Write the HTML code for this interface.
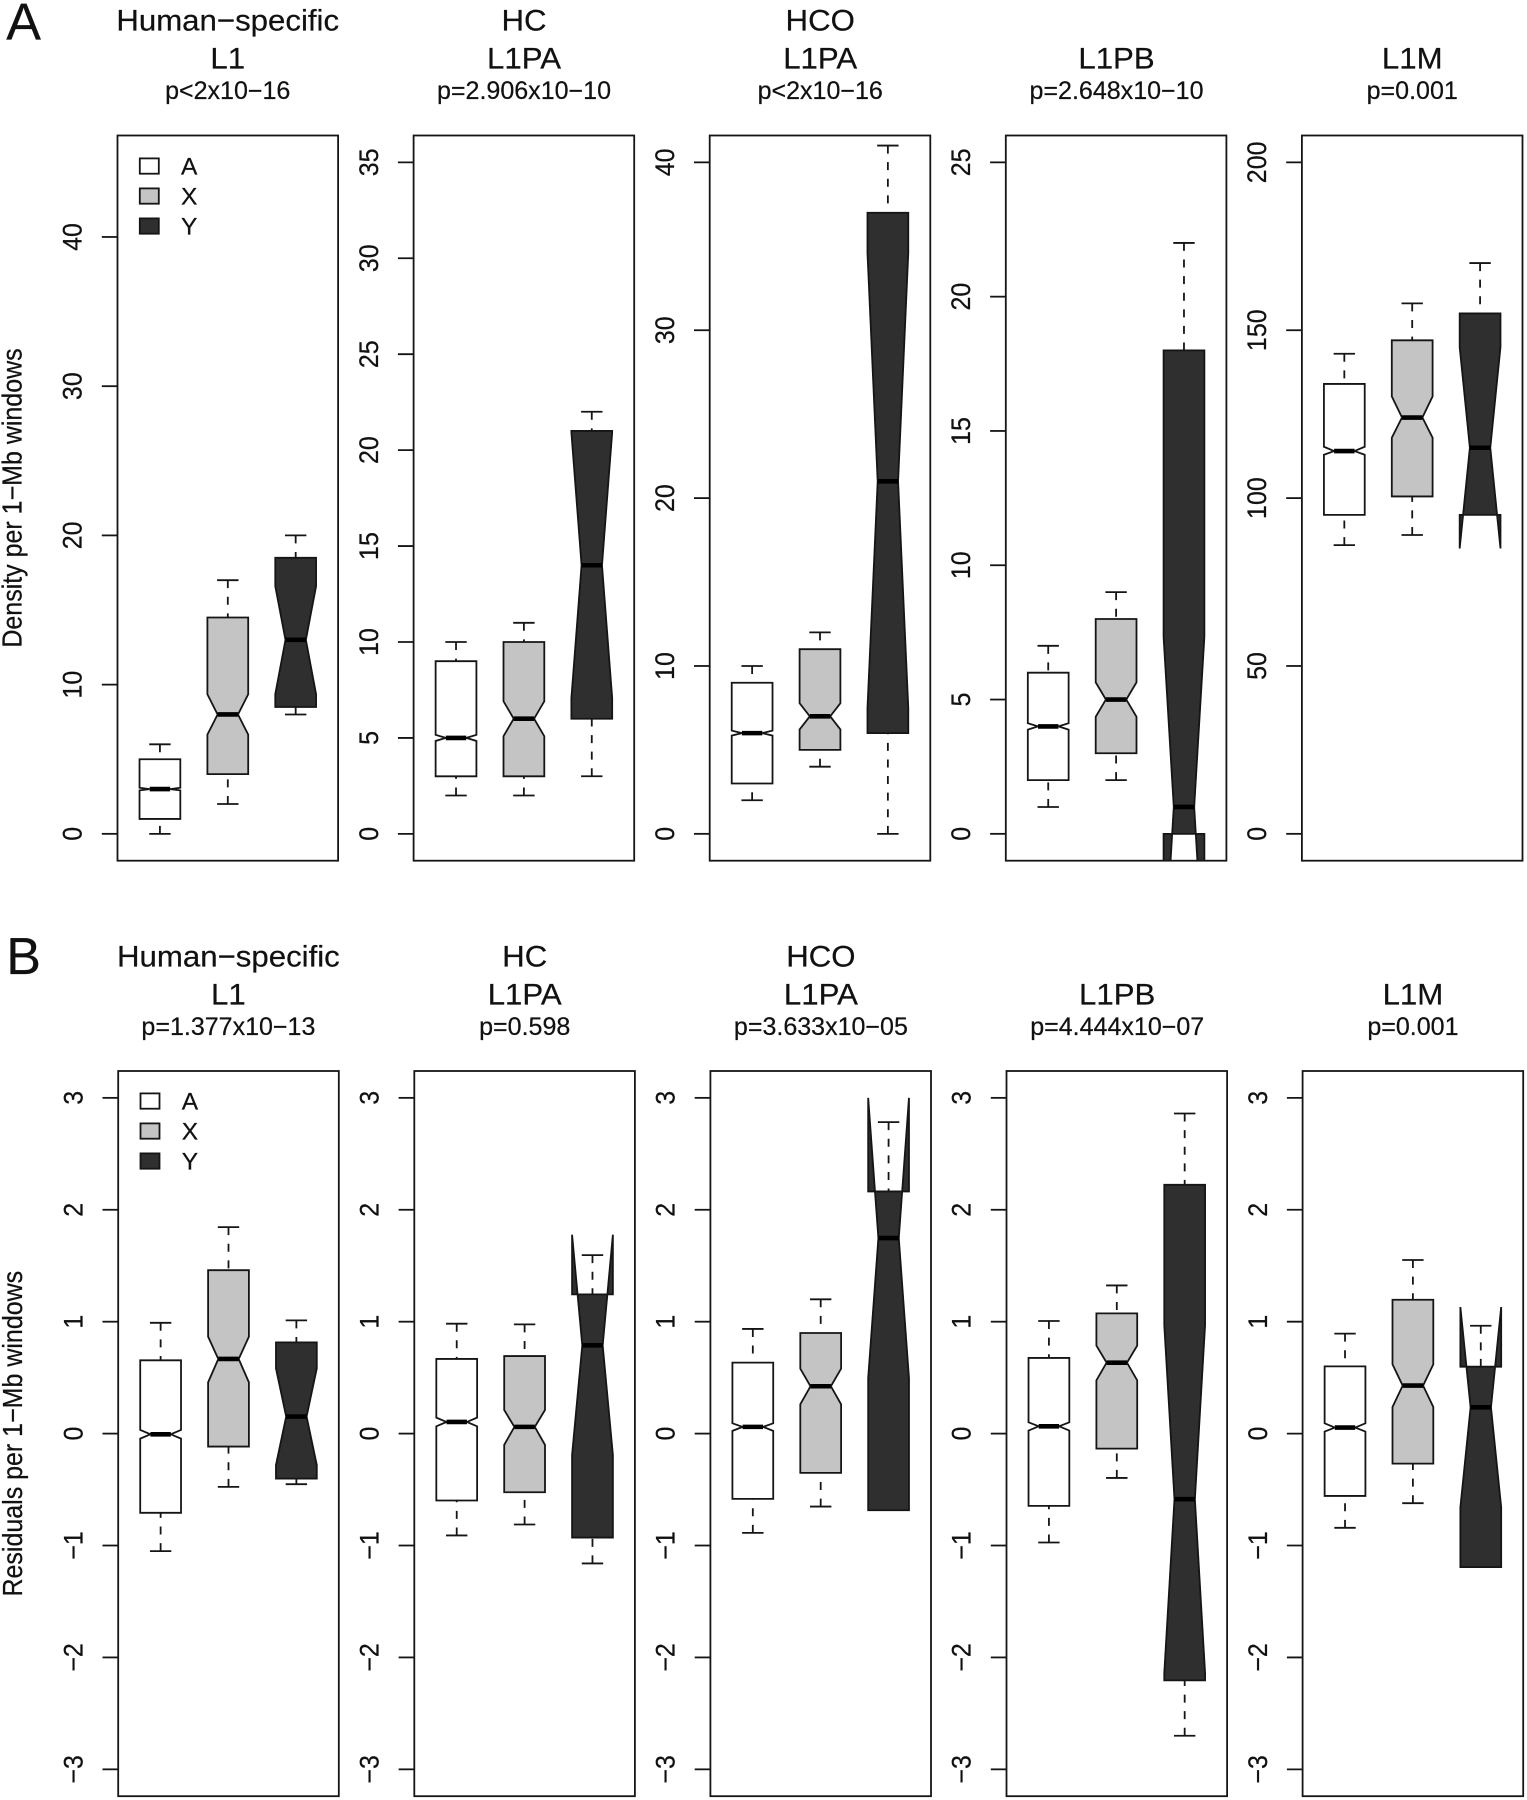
<!DOCTYPE html>
<html lang="en">
<head>
<meta charset="utf-8">
<title>L1 density and residuals boxplots</title>
<style>
  html, body { margin: 0; padding: 0; background: #fff; }
  svg { display: block; filter: blur(0.3px); }
  text { font-family: "Liberation Sans", Arial, sans-serif; fill: #111; stroke: #111; stroke-width: 0.22px; }
  .title { font-size: 30px; text-anchor: middle; }
  .pval { font-size: 24.8px; text-anchor: middle; }
  .letter { font-size: 52px; }
  .ylab { font-size: 25px; text-anchor: middle; }
  .tick { font-size: 25px; text-anchor: middle; }
  .leg { font-size: 24.3px; }
</style>
</head>
<body>
<svg id="chart" xmlns="http://www.w3.org/2000/svg" width="1527" height="1800" viewBox="0 0 1527 1800">
  <rect x="0" y="0" width="1527" height="1800" fill="#fff"/>

  <text class="letter" x="6.3" y="39.5">A</text>
  <text class="letter" x="6.3" y="974">B</text>

  <text class="ylab" transform="translate(21.7,498) scale(1.1,1) rotate(-90)">Density per 1−Mb windows</text>
  <text class="ylab" transform="translate(22,1433.7) scale(1.1,1) rotate(-90)">Residuals per 1−Mb windows</text>

  <g>
    <text class="title" transform="translate(227.7,30.7) scale(1.04,1)">Human−specific</text>
    <text class="title" transform="translate(227.7,68.3) scale(1.04,1)">L1</text>
    <text class="pval" transform="translate(227.7,99) scale(1.01,1)">p&lt;2x10−16</text>
    <text class="title" transform="translate(524,30.7) scale(1.04,1)">HC</text>
    <text class="title" transform="translate(524,68.3) scale(1.04,1)">L1PA</text>
    <text class="pval" transform="translate(524,99) scale(1.01,1)">p=2.906x10−10</text>
    <text class="title" transform="translate(820.2,30.7) scale(1.04,1)">HCO</text>
    <text class="title" transform="translate(820.2,68.3) scale(1.04,1)">L1PA</text>
    <text class="pval" transform="translate(820.2,99) scale(1.01,1)">p&lt;2x10−16</text>
    <text class="title" transform="translate(1116.5,68.3) scale(1.04,1)">L1PB</text>
    <text class="pval" transform="translate(1116.5,99) scale(1.01,1)">p=2.648x10−10</text>
    <text class="title" transform="translate(1412.2,68.3) scale(1.04,1)">L1M</text>
    <text class="pval" transform="translate(1412.2,99) scale(1.01,1)">p=0.001</text>
  </g>

  <g>
    <text class="title" transform="translate(228.4,966.7) scale(1.04,1)">Human−specific</text>
    <text class="title" transform="translate(228.4,1004.3) scale(1.04,1)">L1</text>
    <text class="pval" transform="translate(228.4,1035) scale(1.01,1)">p=1.377x10−13</text>
    <text class="title" transform="translate(524.7,966.7) scale(1.04,1)">HC</text>
    <text class="title" transform="translate(524.7,1004.3) scale(1.04,1)">L1PA</text>
    <text class="pval" transform="translate(524.7,1035) scale(1.01,1)">p=0.598</text>
    <text class="title" transform="translate(820.9,966.7) scale(1.04,1)">HCO</text>
    <text class="title" transform="translate(820.9,1004.3) scale(1.04,1)">L1PA</text>
    <text class="pval" transform="translate(820.9,1035) scale(1.01,1)">p=3.633x10−05</text>
    <text class="title" transform="translate(1117.2,1004.3) scale(1.04,1)">L1PB</text>
    <text class="pval" transform="translate(1117.2,1035) scale(1.01,1)">p=4.444x10−07</text>
    <text class="title" transform="translate(1412.9,1004.3) scale(1.04,1)">L1M</text>
    <text class="pval" transform="translate(1412.9,1035) scale(1.01,1)">p=0.001</text>
  </g>

  <g id="plots"></g>

  <g>
    <g>
      <rect x="139.8" y="158.4" width="19" height="15.3" fill="#ffffff" stroke="#151515" stroke-width="1.8"/>
      <text class="leg" transform="translate(181,174.7) scale(1.01,1)">A</text>
    </g>
    <g>
      <rect x="139.8" y="188.4" width="19" height="15.3" fill="#c4c4c4" stroke="#151515" stroke-width="1.8"/>
      <text class="leg" transform="translate(181,204.7) scale(1.01,1)">X</text>
    </g>
    <g>
      <rect x="139.8" y="218.4" width="19" height="15.3" fill="#2f2f2f" stroke="#151515" stroke-width="1.8"/>
      <text class="leg" transform="translate(181,234.7) scale(1.01,1)">Y</text>
    </g>
  </g>
  <g>
    <g>
      <rect x="140.5" y="1093.4" width="19" height="15.3" fill="#ffffff" stroke="#151515" stroke-width="1.8"/>
      <text class="leg" transform="translate(181.7,1109.7) scale(1.01,1)">A</text>
    </g>
    <g>
      <rect x="140.5" y="1123.4" width="19" height="15.3" fill="#c4c4c4" stroke="#151515" stroke-width="1.8"/>
      <text class="leg" transform="translate(181.7,1139.7) scale(1.01,1)">X</text>
    </g>
    <g>
      <rect x="140.5" y="1153.4" width="19" height="15.3" fill="#2f2f2f" stroke="#151515" stroke-width="1.8"/>
      <text class="leg" transform="translate(181.7,1169.7) scale(1.01,1)">Y</text>
    </g>
  </g>
</svg>

<script>
// Each box: [whiskerLow, q1, median, q3, whiskerHigh, notchLow, notchHigh]
const categories = ['A', 'X', 'Y'];
const panelNames = ['human-specific-l1', 'hc-l1pa', 'hco-l1pa', 'l1pb', 'l1m'];

// Row A: density per 1-Mb windows
const densityHumanA = [0, 1, 3, 5, 6, 2.91, 3.09];
const densityHumanX = [2, 4, 8, 14.5, 17, 6.65, 9.35];
const densityHumanY = [8, 8.5, 13, 18.5, 20, 9.36, 16.6];
const densityHcA = [2, 3, 5, 9, 10, 4.84, 5.16];
const densityHcX = [2, 3, 6, 10, 11, 5.09, 6.91];
const densityHcY = [3, 6, 14, 21, 22, 7.07, 20.93];
const densityHcoA = [2, 3, 6, 9, 10, 5.85, 6.15];
const densityHcoX = [4, 5, 7, 11, 12, 6.22, 7.78];
const densityHcoY = [0, 6, 21, 37, 41, 7.5, 34.6];
const densityPbA = [1, 2, 4, 6, 7, 3.88, 4.12];
const densityPbX = [2, 3, 5, 8, 9, 4.36, 5.64];
const densityPbY = [0, 0, 1, 18, 22, -5.34, 7.34];
const densityMA = [86, 95, 114, 134, 143, 112.9, 115.3];
const densityMX = [89, 100.5, 124, 147, 158, 118, 130.3];
const densityMY = [95, 95, 115, 155, 170, 85, 145];

// Row B: residuals per 1-Mb windows
const residHumanA = [-1.05, -0.708, -0.006, 0.655, 0.99, -0.045, 0.033];
const residHumanX = [-0.476, -0.116, 0.667, 1.46, 1.845, 0.458, 0.866];
const residHumanY = [-0.452, -0.402, 0.152, 0.815, 1.012, -0.28, 0.583];
const residHcA = [-0.91, -0.598, 0.104, 0.667, 0.982, 0.065, 0.143];
const residHcX = [-0.8125, -0.524, 0.06, 0.693, 0.976, -0.101, 0.211];
const residHcY = [-1.16, -0.929, 0.789, 1.244, 1.595, -0.19, 1.777];
const residHcoA = [-0.887, -0.583, 0.06, 0.634, 0.935, 0.024, 0.092];
const residHcoX = [-0.652, -0.351, 0.423, 0.899, 1.2, 0.262, 0.58];
const residHcoY = [-0.685, -0.685, 1.747, 2.164, 2.783, 0.497, 3.0];
const residPbA = [-0.973, -0.646, 0.065, 0.676, 1.006, 0.027, 0.101];
const residPbX = [-0.396, -0.134, 0.634, 1.074, 1.324, 0.476, 0.786];
const residPbY = [-2.70, -2.205, -0.586, 2.223, 2.86, -2.14, 0.97];
const residMA = [-0.842, -0.557, 0.054, 0.601, 0.893, 0.018, 0.092];
const residMX = [-0.622, -0.268, 0.429, 1.196, 1.551, 0.238, 0.619];
const residMY = [-1.193, -1.193, 0.235, 0.598, 0.964, -0.658, 1.131];

// Axis ticks
const ticksDensityHuman = [0, 10, 20, 30, 40];
const ticksDensityHc = [0, 5, 10, 15, 20, 25, 30, 35];
const ticksDensityHco = [0, 10, 20, 30, 40];
const ticksDensityPb = [0, 5, 10, 15, 20, 25];
const ticksDensityM = [0, 50, 100, 150, 200];
const ticksResiduals = [-3, -2, -1, 0, 1, 2, 3];

// Axis ranges before R's 4% padding
const ylimDensityHuman = [0, 45];
const ylimDensityHc = [0, 35];
const ylimDensityHco = [0, 40];
const ylimDensityPb = [0, 25];
const ylimDensityM = [0, 200];
const ylimResiduals = [-3, 3];

const rowA = [
  { boxes: [densityHumanA, densityHumanX, densityHumanY], ticks: ticksDensityHuman, ylim: ylimDensityHuman },
  { boxes: [densityHcA, densityHcX, densityHcY], ticks: ticksDensityHc, ylim: ylimDensityHc },
  { boxes: [densityHcoA, densityHcoX, densityHcoY], ticks: ticksDensityHco, ylim: ylimDensityHco },
  { boxes: [densityPbA, densityPbX, densityPbY], ticks: ticksDensityPb, ylim: ylimDensityPb },
  { boxes: [densityMA, densityMX, densityMY], ticks: ticksDensityM, ylim: ylimDensityM }
];
const rowB = [
  { boxes: [residHumanA, residHumanX, residHumanY], ticks: ticksResiduals, ylim: ylimResiduals },
  { boxes: [residHcA, residHcX, residHcY], ticks: ticksResiduals, ylim: ylimResiduals },
  { boxes: [residHcoA, residHcoX, residHcoY], ticks: ticksResiduals, ylim: ylimResiduals },
  { boxes: [residPbA, residPbX, residPbY], ticks: ticksResiduals, ylim: ylimResiduals },
  { boxes: [residMA, residMX, residMY], ticks: ticksResiduals, ylim: ylimResiduals }
];

const NS = 'http://www.w3.org/2000/svg';
const INK = '#151515';
const LINE = 1.8;
const fills = { A: '#ffffff', X: '#c4c4c4', Y: '#2f2f2f' };
const PANEL_W = 220.6;
const PANEL_STEP = 296.1;

function make(parent, tag, name, attrs) {
  const el = document.createElementNS(NS, tag);
  
  
  for (const k in attrs) el.setAttribute(k, attrs[k]);
  parent.appendChild(el);
  return el;
}

function xScale(left, pos) {
  // xlim of c(0.375, 3.625), as in R's boxplot
  return left + (pos - 0.375) / 3.25 * PANEL_W;
}
function yScale(lim, top, bottom) {
  const pad = (lim[1] - lim[0]) * 0.04;
  const lo = lim[0] - pad, hi = lim[1] + pad;
  return function (v) { return bottom - (v - lo) / (hi - lo) * (bottom - top); };
}

function drawBox(group, stats, cat, left, y, clipId) {
  const pos = categories.indexOf(cat) + 1;
  const cx = xScale(left, pos);
  const halfBox = 20.4, halfNotch = 10.2, halfCap = 10.7;
  const wl = stats[0], q1 = stats[1], med = stats[2], q3 = stats[3], wh = stats[4], nl = stats[5], nh = stats[6];
  const g = make(group, 'g', 'box-' + cat.toLowerCase(), { 'clip-path': 'url(#' + clipId + ')' });

  if (wl !== q1) {
    make(g, 'line', 'whisker-low', { x1: cx, x2: cx, y1: y(wl), y2: y(q1), stroke: INK, 'stroke-width': LINE, 'stroke-dasharray': '8 8.6' });
    make(g, 'line', 'cap-low', { x1: cx - halfCap, x2: cx + halfCap, y1: y(wl), y2: y(wl), stroke: INK, 'stroke-width': LINE });
  }
  if (wh !== q3) {
    make(g, 'line', 'whisker-high', { x1: cx, x2: cx, y1: y(wh), y2: y(q3), stroke: INK, 'stroke-width': LINE, 'stroke-dasharray': '8 8.6' });
    make(g, 'line', 'cap-high', { x1: cx - halfCap, x2: cx + halfCap, y1: y(wh), y2: y(wh), stroke: INK, 'stroke-width': LINE });
  }

  const pts = [
    [cx - halfBox, y(q1)], [cx + halfBox, y(q1)], [cx + halfBox, y(nl)], [cx + halfNotch, y(med)],
    [cx + halfBox, y(nh)], [cx + halfBox, y(q3)], [cx - halfBox, y(q3)], [cx - halfBox, y(nh)],
    [cx - halfNotch, y(med)], [cx - halfBox, y(nl)]
  ];
  make(g, 'polygon', 'box-body', {
    points: pts.map(function (p) { return p[0].toFixed(2) + ',' + p[1].toFixed(2); }).join(' '),
    fill: fills[cat], stroke: INK, 'stroke-width': LINE, 'stroke-linejoin': 'miter'
  });
  make(g, 'line', 'median', { x1: cx - halfNotch, x2: cx + halfNotch, y1: y(med), y2: y(med), stroke: '#000', 'stroke-width': 4.6 });
}

function drawPanel(root, panel, left, top, bottom, rowId, idx) {
  const group = make(root, 'g', 'panel-' + rowId + '-' + panelNames[idx], {});
  const y = yScale(panel.ylim, top, bottom);
  const clipId = 'clip-' + rowId + '-' + idx;

  const defs = document.createElementNS(NS, 'defs');
  group.appendChild(defs);
  const clip = document.createElementNS(NS, 'clipPath');
  clip.setAttribute('id', clipId);
  defs.appendChild(clip);
  const clipRect = document.createElementNS(NS, 'rect');
  clipRect.setAttribute('x', left);
  clipRect.setAttribute('y', top);
  clipRect.setAttribute('width', PANEL_W);
  clipRect.setAttribute('height', bottom - top);
  clip.appendChild(clipRect);

  const axis = make(group, 'g', 'y-axis', {});
  panel.ticks.forEach(function (t) {
    make(axis, 'line', 'y-tick', { x1: left - 15.7, x2: left, y1: y(t), y2: y(t), stroke: INK, 'stroke-width': LINE });
    const label = make(axis, 'text', 'y-tick-label', {
      'class': 'tick',
      transform: 'translate(' + (left - 35.8) + ',' + y(t).toFixed(2) + ') scale(1.08,1) rotate(-90)'
    });
    label.textContent = String(t).replace('-', '\u2212');
  });

  panel.boxes.forEach(function (stats, i) {
    drawBox(group, stats, categories[i], left, y, clipId);
  });

  make(group, 'rect', 'plot-frame', { x: left, y: top, width: PANEL_W, height: bottom - top, fill: 'none', stroke: INK, 'stroke-width': LINE });
}

const plotsRoot = document.getElementById('plots');
rowA.forEach(function (panel, i) {
  drawPanel(plotsRoot, panel, 117.5 + i * PANEL_STEP, 135.5, 860.7, 'a', i);
});
rowB.forEach(function (panel, i) {
  drawPanel(plotsRoot, panel, 118.2 + i * PANEL_STEP, 1071, 1796.2, 'b', i);
});
</script>
</body>
</html>
